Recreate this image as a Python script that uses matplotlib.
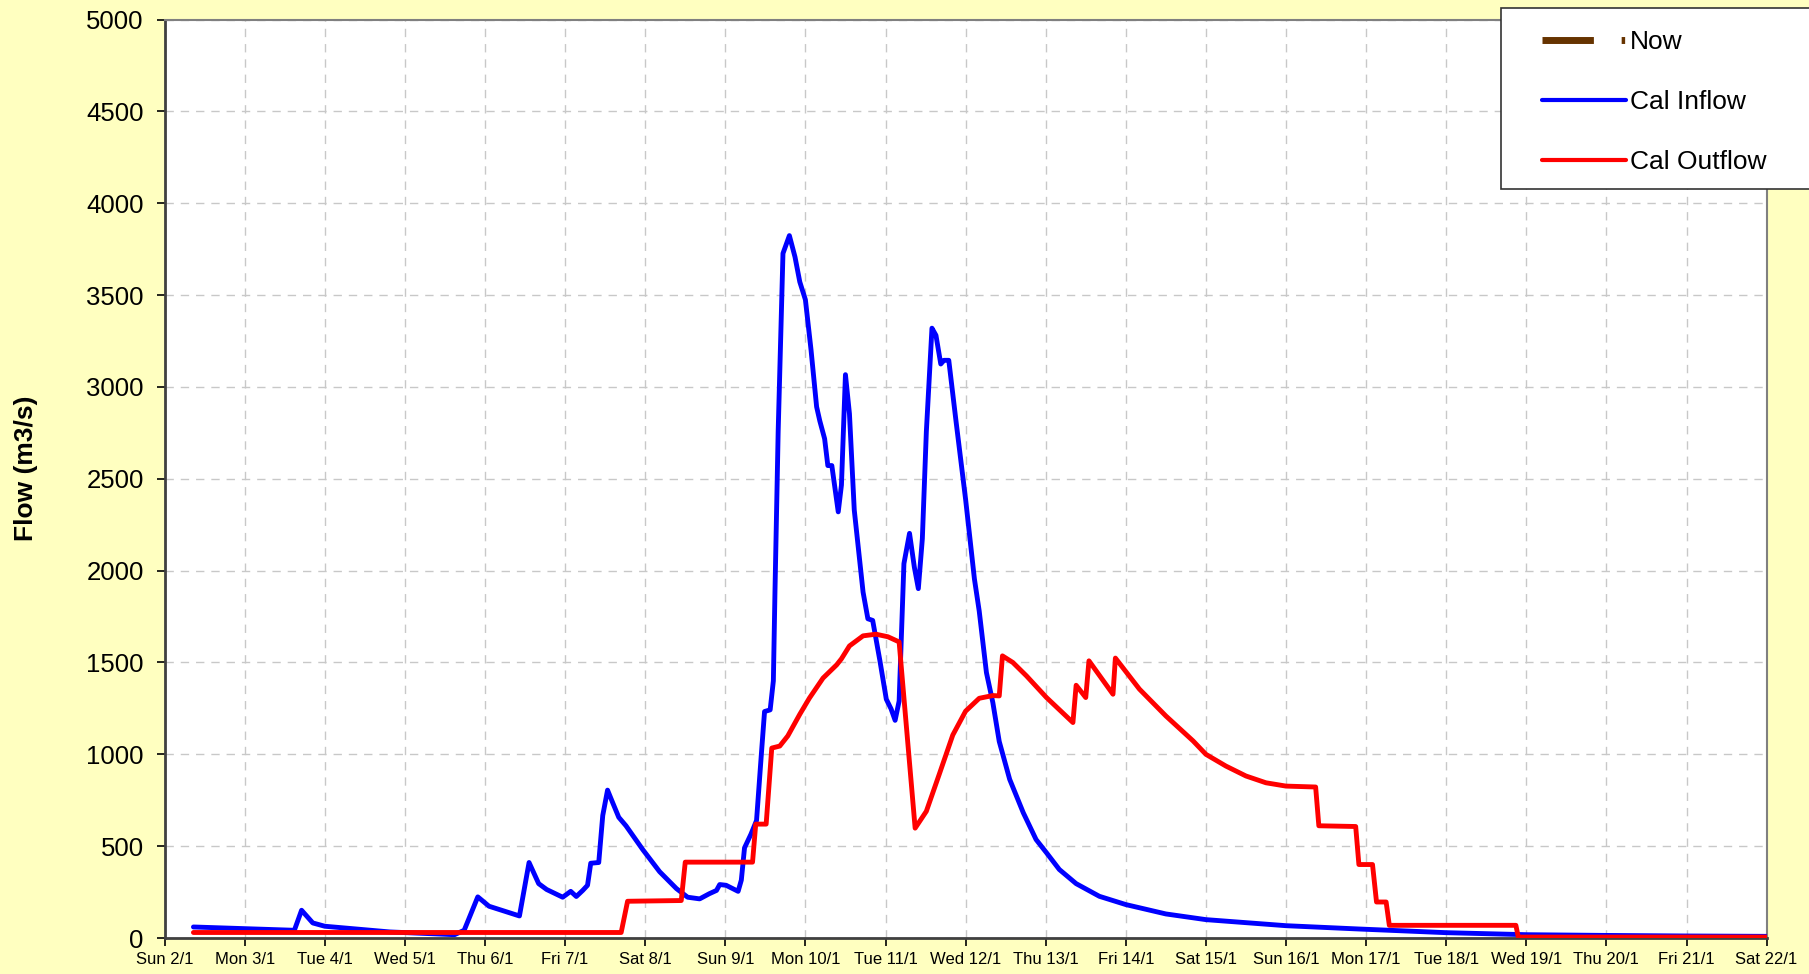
import matplotlib
matplotlib.use("Agg")
import matplotlib.pyplot as plt
from matplotlib.lines import Line2D
from matplotlib.patches import Rectangle

plt.rcParams['font.family'] = ['Liberation Sans', 'DejaVu Sans']

# ---- data (x = days after Sun 2/1) ----
day_labels = ["Sun 2/1", "Mon 3/1", "Tue 4/1", "Wed 5/1", "Thu 6/1", "Fri 7/1",
              "Sat 8/1", "Sun 9/1", "Mon 10/1", "Tue 11/1", "Wed 12/1", "Thu 13/1",
              "Fri 14/1", "Sat 15/1", "Sun 16/1", "Mon 17/1", "Tue 18/1", "Wed 19/1",
              "Thu 20/1", "Fri 21/1", "Sat 22/1"]
y_ticks = [0, 500, 1000, 1500, 2000, 2500, 3000, 3500, 4000, 4500, 5000]

inflow_t = [0.36, 1.62, 1.71, 1.85, 2.0, 2.81, 3.62, 3.74, 3.91, 4.05, 4.43, 4.55, 4.67,
            4.77, 4.97, 5.07, 5.14, 5.22, 5.28, 5.32, 5.42, 5.47, 5.53, 5.59, 5.67, 5.76,
            5.97, 6.18, 6.39, 6.53, 6.68, 6.80, 6.89, 6.93, 7.01, 7.16, 7.20, 7.24, 7.32,
            7.39, 7.45, 7.49, 7.56, 7.60, 7.62, 7.66, 7.72, 7.80, 7.87, 7.93, 8.0, 8.07,
            8.14, 8.18, 8.24, 8.28, 8.33, 8.41, 8.45, 8.50, 8.55, 8.61, 8.72, 8.78, 8.84,
            8.93, 9.01, 9.07, 9.12, 9.17, 9.23, 9.30, 9.36, 9.41, 9.46, 9.51, 9.58, 9.63,
            9.69, 9.73, 9.79, 9.88, 10.0, 10.11, 10.17, 10.26, 10.34, 10.42, 10.55, 10.72,
            10.88, 11.01, 11.17, 11.38, 11.67, 12.0, 12.5, 13.0, 14.0, 14.91, 16.0, 17.0,
            18.0, 19.0, 20.0]
inflow_q = [60, 42, 151, 82, 64, 33, 18, 42, 224, 173, 120, 411, 296,
            264, 222, 254, 226, 259, 287, 407, 411, 667, 805, 741, 657, 611,
            481, 361, 269, 222, 213, 241, 259, 291, 287, 254, 315, 491, 565,
            640, 1000, 1233, 1242, 1400, 1883, 2757, 3727, 3824, 3708, 3572, 3475, 3203,
            2892, 2815, 2718, 2572, 2572, 2320, 2466, 3067, 2854, 2330, 1883, 1738, 1729,
            1510, 1300, 1247, 1185, 1290, 2038, 2203, 2019, 1902, 2174, 2757, 3320, 3281,
            3125, 3145, 3145, 2815, 2388, 1955, 1780, 1445, 1282, 1070, 864, 682,
            536, 464, 373, 296, 227, 182, 131, 100, 67, 49, 29, 18,
            14, 11, 9]

outflow_t = [0.36, 5.70, 5.78, 6.45, 6.50, 7.34, 7.38, 7.51, 7.58, 7.68, 7.78, 7.93, 8.05,
             8.22, 8.39, 8.45, 8.55, 8.72, 8.88, 9.03, 9.17, 9.37, 9.51, 9.67, 9.84, 10.0,
             10.17, 10.34, 10.42, 10.46, 10.59, 10.76, 11.01, 11.34, 11.38, 11.50, 11.54,
             11.84, 11.87, 12.17, 12.50, 12.84, 13.0, 13.25, 13.50, 13.75, 14.0, 14.37,
             14.41, 14.87, 14.91, 15.08, 15.13, 15.25, 15.29, 16.87, 16.90, 20.0]
outflow_q = [30, 30, 200, 204, 413, 413, 620, 620, 1034, 1045, 1100, 1218, 1306,
             1415, 1487, 1520, 1590, 1645, 1654, 1640, 1612, 598, 690, 890, 1105, 1235,
             1305, 1320, 1318, 1536, 1500, 1427, 1309, 1173, 1376, 1309, 1509,
             1327, 1524, 1355, 1209, 1073, 1000, 936, 882, 845, 827, 822,
             611, 607, 400, 400, 196, 196, 69, 69, 5, 5]

# ---- figure ----
W, H = 1809, 974
fig = plt.figure(figsize=(W / 100, H / 100), dpi=100, facecolor="#FFFFC0")
ax = fig.add_axes([164.6 / W, 1 - 938 / H, (1766.6 - 164.6) / W, (938 - 19.6) / H])
ax.set_facecolor("white")

ax.plot(inflow_t, inflow_q, color="#0000FF", lw=3.5, solid_joinstyle="round",
        solid_capstyle="round", zorder=3)
ax.plot(outflow_t, outflow_q, color="#FF0000", lw=3.5, solid_joinstyle="round",
        solid_capstyle="round", zorder=4)

ax.set_xlim(0, len(day_labels) - 1)
ax.set_ylim(y_ticks[0], y_ticks[-1])
ax.set_xticks(range(len(day_labels)))
ax.set_xticklabels(day_labels, fontsize=12)
ax.set_yticks(y_ticks)
ax.set_yticklabels([str(v) for v in y_ticks], fontsize=18.5)

ax.grid(True, color="#C8C8C8", linestyle=(0, (6, 5)), lw=1.0, zorder=0)
ax.set_axisbelow(True)
ax.tick_params(axis="y", direction="out", length=6, width=1.2, pad=9, colors="black")
ax.tick_params(axis="x", direction="out", length=6, width=1.2, pad=4, colors="black")

for side in ("left", "bottom"):
    ax.spines[side].set_color("#404040")
    ax.spines[side].set_linewidth(2.0)
for side in ("top", "right"):
    ax.spines[side].set_color("#808080")
    ax.spines[side].set_linewidth(1.5)

ax.set_ylabel("Flow (m3/s)", fontsize=19, fontweight="bold")
ax.yaxis.set_label_coords(-0.079, 0.512)

# ---- legend ----
box = Rectangle((1501 / W, 1 - 189 / H), 400 / W, 181 / H, transform=fig.transFigure,
                facecolor="white", edgecolor="#333333", lw=1.2, zorder=5)
fig.patches.append(box)

handles = [
    Line2D([], [], color="#663300", lw=5, dashes=(7.4, 4.0, 0.5, 100),
           solid_capstyle="butt", dash_capstyle="butt"),
    Line2D([], [], color="#0000FF", lw=3.0, solid_capstyle="round"),
    Line2D([], [], color="#FF0000", lw=3.0, solid_capstyle="round"),
]
labels = ["Now", "Cal Inflow", "Cal Outflow"]
leg = fig.legend(handles, labels, loc="upper left",
                 bbox_to_anchor=(1542 / W, 1 - 30 / H), frameon=False,
                 fontsize=19, handlelength=3.18, handletextpad=0.15,
                 labelspacing=1.36, borderpad=0, borderaxespad=0)
leg.set_zorder(6)

fig.savefig("out.png", dpi=100, facecolor=fig.get_facecolor())
